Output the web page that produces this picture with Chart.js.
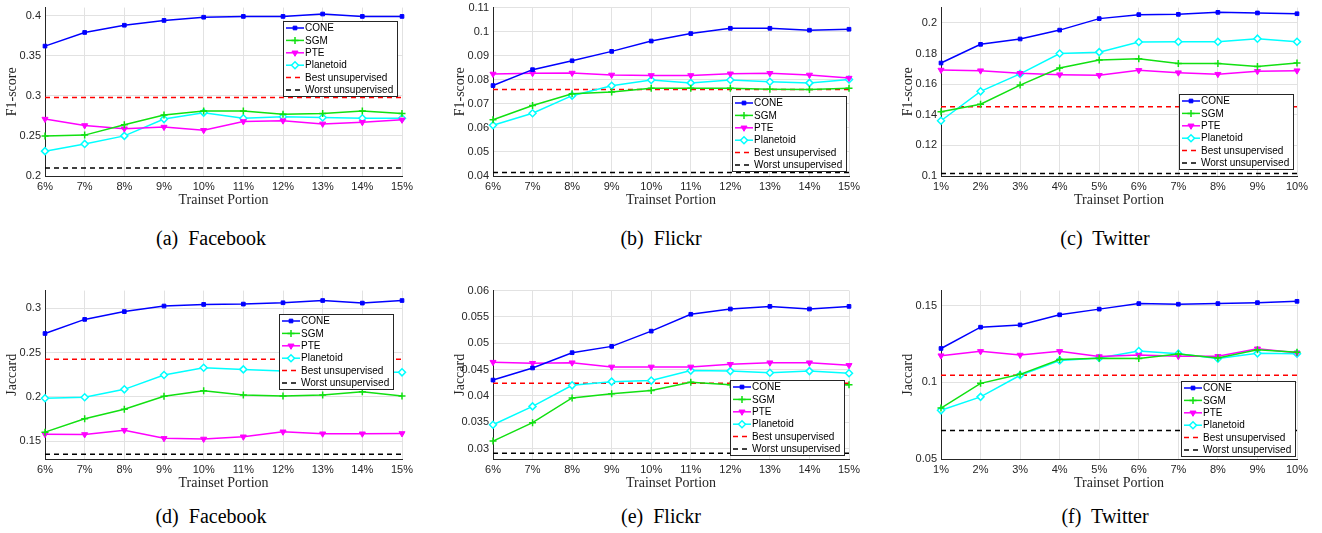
<!DOCTYPE html>
<html>
<head>
<meta charset="utf-8">
<script src="https://cdn.jsdelivr.net/npm/chart.js@4.4.1/dist/chart.umd.min.js"></script>
<style>
  body { margin: 0; background: #fff; width: 1322px; height: 533px; position: relative; overflow: hidden; }
  canvas { position: absolute; }
  .cap { position: absolute; font-family: "Liberation Serif", "Times New Roman", serif; font-size: 20px; color: #000; white-space: pre; transform: translate(-50%, -50%); }
</style>
</head>
<body>
<div class="cap" style="left:211px;top:238px">(a)  Facebook</div>
<div class="cap" style="left:661px;top:238px">(b)  Flickr</div>
<div class="cap" style="left:1105px;top:238px">(c)  Twitter</div>
<div class="cap" style="left:211px;top:516px">(d)  Facebook</div>
<div class="cap" style="left:661px;top:516px">(e)  Flickr</div>
<div class="cap" style="left:1105px;top:516px">(f)  Twitter</div>
<script>
// x categories
const portions6to15 = ['6%', '7%', '8%', '9%', '10%', '11%', '12%', '13%', '14%', '15%'];
const portions1to10 = ['1%', '2%', '3%', '4%', '5%', '6%', '7%', '8%', '9%', '10%'];

// (a) Facebook F1
const fbF1Cone      = [0.362, 0.379, 0.388, 0.394, 0.398, 0.399, 0.399, 0.402, 0.399, 0.399];
const fbF1Sgm       = [0.250, 0.251, 0.264, 0.276, 0.281, 0.281, 0.277, 0.278, 0.281, 0.278];
const fbF1Pte       = [0.271, 0.263, 0.259, 0.261, 0.257, 0.268, 0.269, 0.265, 0.267, 0.270];
const fbF1Planetoid = [0.231, 0.240, 0.250, 0.271, 0.279, 0.272, 0.274, 0.273, 0.272, 0.272];
const fbF1Best = 0.298, fbF1Worst = 0.210;
const fbF1Ticks = [0.2, 0.25, 0.3, 0.35, 0.4];

// (b) Flickr F1
const flF1Cone      = [0.0776, 0.0842, 0.0879, 0.0918, 0.0961, 0.0992, 0.1014, 0.1014, 0.1006, 0.1010];
const flF1Sgm       = [0.0634, 0.0693, 0.0742, 0.0749, 0.0765, 0.0765, 0.0765, 0.0761, 0.0760, 0.0765];
const flF1Pte       = [0.0824, 0.0827, 0.0828, 0.0820, 0.0818, 0.0818, 0.0825, 0.0827, 0.0820, 0.0807];
const flF1Planetoid = [0.0611, 0.0661, 0.0734, 0.0775, 0.0799, 0.0787, 0.0799, 0.0792, 0.0787, 0.0801];
const flF1Best = 0.0760, flF1Worst = 0.0415;
const flF1Ticks = [0.04, 0.05, 0.06, 0.07, 0.08, 0.09, 0.1, 0.11];

// (c) Twitter F1
const twF1Cone      = [0.1738, 0.1860, 0.1895, 0.1953, 0.2028, 0.2054, 0.2056, 0.2069, 0.2065, 0.2060];
const twF1Sgm       = [0.1419, 0.1469, 0.1594, 0.1705, 0.1757, 0.1766, 0.1735, 0.1735, 0.1716, 0.1738];
const twF1Pte       = [0.1692, 0.1688, 0.1671, 0.1662, 0.1658, 0.1690, 0.1675, 0.1665, 0.1684, 0.1688];
const twF1Planetoid = [0.1361, 0.1553, 0.1667, 0.1800, 0.1809, 0.1875, 0.1877, 0.1877, 0.1897, 0.1877];
const twF1Best = 0.1452, twF1Worst = 0.1017;
const twF1Ticks = [0.1, 0.12, 0.14, 0.16, 0.18, 0.2];

// (d) Facebook Jaccard
const fbJcCone      = [0.2716, 0.2875, 0.2963, 0.3026, 0.3044, 0.3048, 0.3063, 0.3088, 0.3059, 0.3088];
const fbJcSgm       = [0.1603, 0.1754, 0.1861, 0.2008, 0.2071, 0.2023, 0.2012, 0.2023, 0.2060, 0.2012];
const fbJcPte       = [0.1580, 0.1577, 0.1625, 0.1533, 0.1526, 0.1551, 0.1607, 0.1585, 0.1585, 0.1588];
const fbJcPlanetoid = [0.1986, 0.1997, 0.2086, 0.2248, 0.2329, 0.2311, 0.2292, 0.2285, 0.2282, 0.2278];
const fbJcBest = 0.2425, fbJcWorst = 0.1353;
const fbJcTicks = [0.15, 0.2, 0.25, 0.3];

// (e) Flickr Jaccard
const flJcCone      = [0.0430, 0.0453, 0.0482, 0.0494, 0.0523, 0.0555, 0.0565, 0.0570, 0.0565, 0.0570];
const flJcSgm       = [0.0314, 0.0349, 0.0396, 0.0404, 0.0410, 0.0426, 0.0421, 0.0420, 0.0420, 0.0421];
const flJcPte       = [0.0464, 0.0462, 0.0463, 0.0455, 0.0455, 0.0455, 0.0460, 0.0463, 0.0463, 0.0458];
const flJcPlanetoid = [0.0345, 0.0380, 0.0420, 0.0427, 0.0429, 0.0448, 0.0447, 0.0444, 0.0447, 0.0443];
const flJcBest = 0.0424, flJcWorst = 0.0291;
const flJcTicks = [0.03, 0.035, 0.04, 0.045, 0.05, 0.055, 0.06];

// (f) Twitter Jaccard
const twJcCone      = [0.1222, 0.1361, 0.1376, 0.1442, 0.1479, 0.1515, 0.1511, 0.1515, 0.1521, 0.1530];
const twJcSgm       = [0.0833, 0.0994, 0.1053, 0.1150, 0.1158, 0.1156, 0.1186, 0.1160, 0.1214, 0.1197];
const twJcPte       = [0.1175, 0.1203, 0.1179, 0.1203, 0.1169, 0.1179, 0.1171, 0.1171, 0.1220, 0.1194];
const twJcPlanetoid = [0.0818, 0.0906, 0.1047, 0.1143, 0.1160, 0.1205, 0.1188, 0.1156, 0.1190, 0.1188];
const twJcBest = 0.1047, twJcWorst = 0.0686;
const twJcTicks = [0.05, 0.1, 0.15];

const axisColor = '#262626';
const gridColor = '#e2e2e2';

// legend drawn as a boxed overlay inside the plot area (like matlab)
const boxLegend = {
  id: 'boxLegend',
  afterDatasetsDraw(chart, args, opts) {
    const { ctx, chartArea } = chart;
    const sets = chart.data.datasets;
    ctx.save();
    ctx.font = '10px "Liberation Sans", Arial, sans-serif';
    const textW = Math.max(...sets.map(d => ctx.measureText(d.label).width));
    const rowH = 12.4;
    const w = Math.round(textW + 26), h = Math.round(rowH * sets.length + 1);
    const x0 = Math.round(chartArea.right - opts.right - w);
    const y0 = Math.round(chartArea.top + opts.top);
    ctx.fillStyle = '#fff';
    ctx.fillRect(x0, y0, w, h);
    ctx.strokeStyle = axisColor;
    ctx.lineWidth = 1;
    ctx.strokeRect(x0 + 0.5, y0 + 0.5, w, h);
    sets.forEach((d, i) => {
      const y = y0 + 7 + i * rowH;
      ctx.setLineDash(d.borderDash || []);
      ctx.strokeStyle = d.borderColor;
      ctx.lineWidth = 1.5;
      ctx.beginPath();
      ctx.moveTo(x0 + 3, y);
      ctx.lineTo(x0 + 21, y);
      ctx.stroke();
      ctx.setLineDash([]);
      if (d.pointRadius > 0) {
        ctx.fillStyle = d.pointBackgroundColor;
        ctx.strokeStyle = d.borderColor;
        ctx.lineWidth = d.pointBorderWidth || 1;
        Chart.helpers.drawPoint(ctx, { pointStyle: d.pointStyle, rotation: d.pointRotation || 0, radius: d.pointRadius, borderWidth: d.pointBorderWidth || 1 }, x0 + 12, y);
      }
      ctx.fillStyle = '#000';
      ctx.textBaseline = 'middle';
      ctx.fillText(d.label, x0 + 22, y + 0.5);
    });
    ctx.restore();
  }
};

function series(label, data, color, style, extra) {
  return Object.assign({
    label, data,
    borderColor: color,
    borderWidth: 1.5,
    pointStyle: style,
    pointRadius: 3,
    pointBorderColor: color,
    pointBackgroundColor: color,
    pointBorderWidth: 1,
    tension: 0
  }, extra || {});
}

function flat(label, labels, value, color) {
  return {
    label,
    data: labels.map(() => value),
    borderColor: color,
    borderWidth: 1.5,
    borderDash: [5, 4],
    pointRadius: 0
  };
}

function makePanel(rect, labels, yTitle, yTicks, yMin, yMax, cone, sgm, pte, planetoid, best, worst, legendPos) {
  const cv = document.createElement('canvas');
  const padTop = 8, padRight = 25, axisW = 45, axisH = 34;
  cv.width = (rect.r - rect.l) + axisW + padRight;
  cv.height = (rect.b - rect.t) + padTop + axisH;
  cv.style.left = (rect.l - axisW) + 'px';
  cv.style.top = (rect.t - padTop) + 'px';
  document.body.appendChild(cv);

  new Chart(cv.getContext('2d'), {
    type: 'line',
    data: {
      labels: labels,
      datasets: [
        series('CONE', cone, '#0000ff', 'rect', { pointRadius: 2.6 }),
        series('SGM', sgm, '#11e011', 'cross', { pointRadius: 3.5, pointBorderWidth: 1.5 }),
        series('PTE', pte, '#ff00ff', 'triangle', { pointRotation: 180, pointRadius: 3.5 }),
        series('Planetoid', planetoid, '#00ffff', 'rectRot', { pointBackgroundColor: '#ffffff', pointRadius: 3.5, pointBorderWidth: 1.5 }),
        flat('Best unsupervised', labels, best, '#ff0000'),
        flat('Worst unsupervised', labels, worst, '#000000')
      ]
    },
    plugins: [boxLegend],
    options: {
      responsive: false,
      animation: false,
      devicePixelRatio: 1,
      layout: { padding: { top: padTop, right: padRight, left: 0, bottom: 0 } },
      plugins: {
        legend: { display: false },
        tooltip: { enabled: false },
        boxLegend: legendPos
      },
      scales: {
        x: {
          offset: false,
          grid: { color: gridColor, drawTicks: false },
          border: { color: axisColor, width: 1 },
          ticks: { color: axisColor, font: { family: 'Liberation Sans', size: 11 }, padding: 4, maxRotation: 0, autoSkip: false },
          title: { display: true, text: 'Trainset Portion', color: axisColor, font: { family: 'Liberation Serif', size: 14 }, padding: { top: 0, bottom: 1 } },
          afterFit: s => { s.height = axisH; }
        },
        y: {
          min: yMin,
          max: yMax,
          grid: { color: gridColor, drawTicks: false },
          border: { color: axisColor, width: 1 },
          ticks: {
            color: axisColor, font: { family: 'Liberation Sans', size: 11 }, padding: 4,
            callback: v => String(parseFloat(Number(v).toFixed(4)))
          },
          afterBuildTicks: s => { s.ticks = yTicks.map(v => ({ value: v })); },
          title: { display: true, text: yTitle, color: axisColor, font: { family: 'Liberation Serif', size: 14 }, padding: { top: 4, bottom: 0 } },
          afterFit: s => { s.width = axisW; }
        }
      }
    }
  });
}

makePanel({ l: 45, r: 402, t: 5, b: 176 }, portions6to15, 'F1-score', fbF1Ticks, 0.2, 0.41,
  fbF1Cone, fbF1Sgm, fbF1Pte, fbF1Planetoid, fbF1Best, fbF1Worst, { right: 5, top: 13 });
makePanel({ l: 493, r: 849, t: 5, b: 176 }, portions6to15, 'F1-score', flF1Ticks, 0.04, 0.11,
  flF1Cone, flF1Sgm, flF1Pte, flF1Planetoid, flF1Best, flF1Worst, { right: 3, top: 88 });
makePanel({ l: 941, r: 1297, t: 5, b: 176 }, portions1to10, 'F1-score', twF1Ticks, 0.1, 0.21,
  twF1Cone, twF1Sgm, twF1Pte, twF1Planetoid, twF1Best, twF1Worst, { right: 4, top: 86 });
makePanel({ l: 45, r: 402, t: 288, b: 459 }, portions6to15, 'Jaccard', fbJcTicks, 0.13, 0.32,
  fbJcCone, fbJcSgm, fbJcPte, fbJcPlanetoid, fbJcBest, fbJcWorst, { right: 9, top: 23 });
makePanel({ l: 493, r: 849, t: 288, b: 459 }, portions6to15, 'Jaccard', flJcTicks, 0.028, 0.06,
  flJcCone, flJcSgm, flJcPte, flJcPlanetoid, flJcBest, flJcWorst, { right: 5, top: 89 });
makePanel({ l: 941, r: 1297, t: 288, b: 459 }, portions1to10, 'Jaccard', twJcTicks, 0.05, 0.16,
  twJcCone, twJcSgm, twJcPte, twJcPlanetoid, twJcBest, twJcWorst, { right: 2, top: 90 });
</script>
</body>
</html>
